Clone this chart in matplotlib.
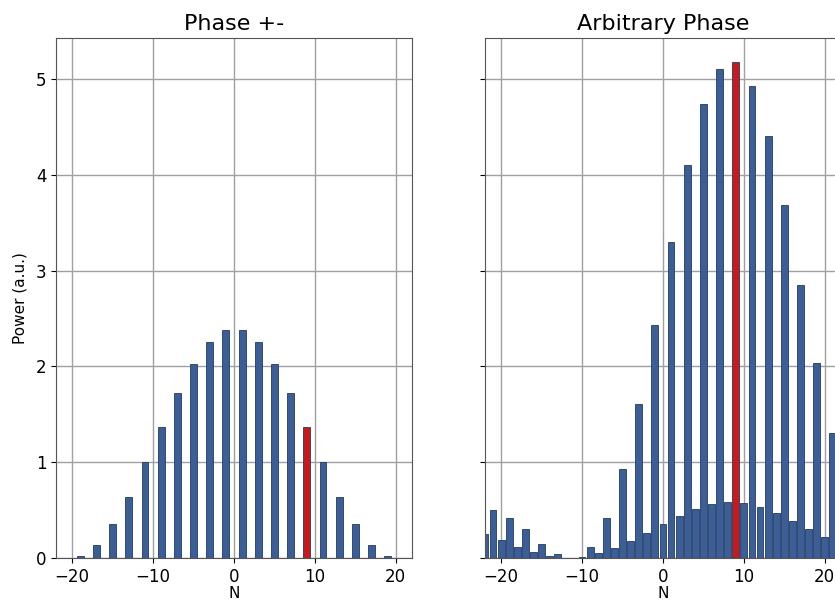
import numpy as np
import matplotlib
matplotlib.use('Agg')
import matplotlib.pyplot as plt

# Phase +- : odd orders only
n_pm = [-19, -17, -15, -13, -11, -9, -7, -5, -3, -1,
        1, 3, 5, 7, 9, 11, 13, 15, 17, 19]
p_pm = [0.025, 0.14, 0.35, 0.64, 1.00, 1.37, 1.72, 2.03, 2.26, 2.38,
        2.38, 2.26, 2.03, 1.72, 1.37, 1.00, 0.64, 0.35, 0.14, 0.025]

# Arbitrary phase : every order
n_arb = list(range(-22, 22))
p_arb = [0.25, 0.50, 0.19, 0.42, 0.12, 0.30, 0.06, 0.15, 0.02, 0.04,
         0.0, 0.0, 0.01, 0.12, 0.05, 0.42, 0.10, 0.93, 0.18, 1.61,
         0.26, 2.43, 0.355, 3.30, 0.44, 4.10, 0.515, 4.74, 0.56, 5.11,
         0.58, 5.18, 0.57, 4.93, 0.53, 4.41, 0.47, 3.69, 0.39, 2.85,
         0.30, 2.04, 0.22, 1.31]

highlight = 9
blue = '#3b5e96'
red = '#c8191c'
edge = '#233a60'


def colors_for(ns):
    return [red if n == highlight else blue for n in ns]


fig = plt.figure(figsize=(8.35, 6.03), dpi=100)
ax1 = fig.add_axes([0.0671, 0.0746, 0.4263, 0.8624])
ax2 = fig.add_axes([0.5808, 0.0746, 0.4263, 0.8624], sharey=ax1)

for ax, ns, ps, title in [(ax1, n_pm, p_pm, 'Phase +-'),
                          (ax2, n_arb, p_arb, 'Arbitrary Phase')]:
    ax.set_axisbelow(True)
    ax.grid(True, color='#a0a0a0', linewidth=1.0)
    ax.bar(ns, ps, width=0.85, color=colors_for(ns), edgecolor=edge, linewidth=0.6)
    ax.set_xlim(-22, 22)
    ax.set_xticks([-20, -10, 0, 10, 20])
    ax.set_title(title, fontsize=16, pad=6)
    ax.set_xlabel('N', fontsize=11, labelpad=0)
    ax.tick_params(labelsize=12)
    for s in ax.spines.values():
        s.set_color('#555555')

ax1.set_ylim(0, 5.43)
ax1.set_yticks([0, 1, 2, 3, 4, 5])
ax1.set_ylabel('Power (a.u.)', fontsize=11, labelpad=6)
ax2.tick_params(labelleft=False)

fig.savefig('out.png', dpi=100)
